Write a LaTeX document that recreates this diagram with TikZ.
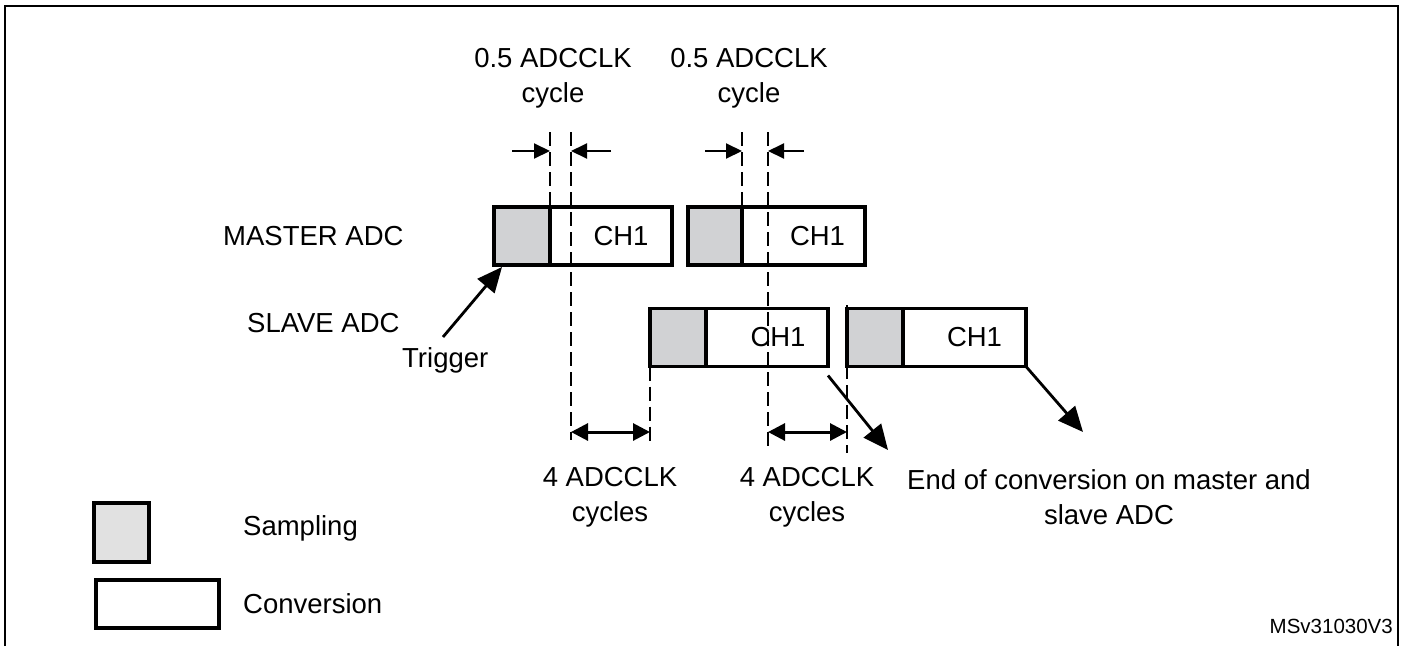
\documentclass[tikz,border=0pt]{standalone}
\usepackage{fontspec}
\setmainfont{Liberation Sans}
\usetikzlibrary{arrows.meta, calc}
\definecolor{sampgray}{RGB}{209,210,212}
\definecolor{legendgray}{RGB}{225,225,225}
\tikzset{
  sampbox/.style={rectangle, draw=black, line width=3.2pt, fill=sampgray,
    minimum width=56pt, minimum height=58pt, inner sep=0pt, outer sep=0pt,
    anchor=north west},
  convbox/.style={rectangle, draw=black, line width=3.2pt, fill=white,
    minimum width=122pt, minimum height=58pt, inner sep=0pt, outer sep=0pt,
    anchor=north west, font=\fontsize{27.5}{35}\selectfont},
  lbl/.style={font=\fontsize{27.5}{35}\selectfont, align=center, inner sep=0pt},
  timeline/.style={line width=2pt, dash pattern=on 14pt off 6pt},
  halfarrow/.style={-{Triangle[length=16pt, width=15pt]}, line width=2pt},
  cyclearrow/.style={{Triangle[length=17pt, width=17pt]}-{Triangle[length=17pt, width=17pt]}, line width=3pt},
  eocarrow/.style={-{Triangle[length=25pt, width=22pt]}, line width=2.8pt}
}

\begin{document}
\begin{tikzpicture}[x=1pt, y=-1pt]
\useasboundingbox (0,0) rectangle (1405,646);

% Frame
\draw[line width=2.6pt] (5,646) -- (5,6) -- (1398,6) -- (1398,646);

% ── Master ADC ──────────────────────────────────────────────
\node[lbl, anchor=base west] (mastertxt) at (223,245) {MASTER ADC};
\node[sampbox] (m1s) at (494,207) {};
\node[convbox] (m1c) at (m1s.north east) {\hspace*{20pt}CH1};
\node[sampbox, minimum width=54pt] (m2s) at (688,207) {};
\node[convbox, minimum width=123pt] (m2c) at (m2s.north east) {\hspace*{28pt}CH1};

% ── Slave ADC ──────────────────────────────────────────────
\node[lbl, anchor=base west] (slavetxt) at (247,332) {SLAVE ADC};
\node[sampbox] (s1s) at (650,308.5) {};
\node[convbox] (s1c) at (s1s.north east) {\hspace*{22pt}CH1};
\node[sampbox] (s2s) at (847,308.5) {};
\node[convbox, minimum width=123pt] (s2c) at (s2s.north east) {\hspace*{20pt}CH1};

% ── Timing lines ──────────────────────────────────────────────
\coordinate (t1) at (550,132);
\coordinate (t2) at (571,132);
\coordinate (t3) at (742,132);
\coordinate (t4) at (768,132);
\coordinate (b2) at (571,440);
\coordinate (b4) at (768,452);
\coordinate (b5) at (650,445);
\coordinate (t6) at (847,305);
\coordinate (b6) at (847,453);
\draw[timeline] (t1) -- (m1s.north east);
\draw[timeline] (t2) -- (b2);
\draw[timeline] (t3) -- (m2s.north east);
\draw[timeline] (t4) -- (b4);
\draw[timeline] (s1s.south west) -- (b5);
\draw[timeline] (t6) -- (b6);

% ── 0.5 ADCCLK cycle ──────────────────────────────────────────────
\node[lbl] (half1) at (553,78.5) {0.5 ADCCLK\\cycle};
\node[lbl] (half2) at (749,78.5) {0.5 ADCCLK\\cycle};
\draw[halfarrow] ($(t1)+(-38,19)$) -- ($(t1)+(0,19)$);
\draw[halfarrow] ($(t2)+(40,19)$) -- ($(t2)+(0,19)$);
\draw[halfarrow] ($(t3)+(-37,19)$) -- ($(t3)+(0,19)$);
\draw[halfarrow] ($(t4)+(36,19)$) -- ($(t4)+(0,19)$);

% ── 4 ADCCLK cycles ──────────────────────────────────────────────
\draw[cyclearrow] ($(b2)+(0,-8)$) -- ($(b5)+(0,-13)$);
\draw[cyclearrow] ($(b4)+(0,-20)$) -- ($(b6)+(0,-21)$);
\node[lbl] (four1) at (610,497.5) {4 ADCCLK\\cycles};
\node[lbl] (four2) at (807,497.5) {4 ADCCLK\\cycles};

% ── Trigger and end of conversion ──────────────────────────────
\node[lbl, anchor=base west] (trigger) at (402,367) {Trigger};
\draw[eocarrow] (443,337) -- ($(m1s.south west)+(8,2)$);
\draw[eocarrow] ($(s1c.south east)+(0,9)$) -- (888,450);
\draw[eocarrow] (s2c.south east) -- (1083,432);
\node[lbl] (eoc) at (1109,497.5) {End of conversion on master and\\slave ADC};

% ── Legend ──────────────────────────────────────────────
\node[sampbox, fill=legendgray, minimum width=55pt, minimum height=59pt] (lsamp) at (94,503) {};
\node[convbox, minimum width=123pt, minimum height=48pt] (lconv) at (96,580) {};
\node[lbl, anchor=base west] (lsamptxt) at (243,535) {Sampling};
\node[lbl, anchor=base west] (lconvtxt) at (243,613) {Conversion};
\node[font=\fontsize{20.5}{24}\selectfont, inner sep=0pt, anchor=base east] (code) at (1393,633) {MSv31030V3};

\end{tikzpicture}
\end{document}
